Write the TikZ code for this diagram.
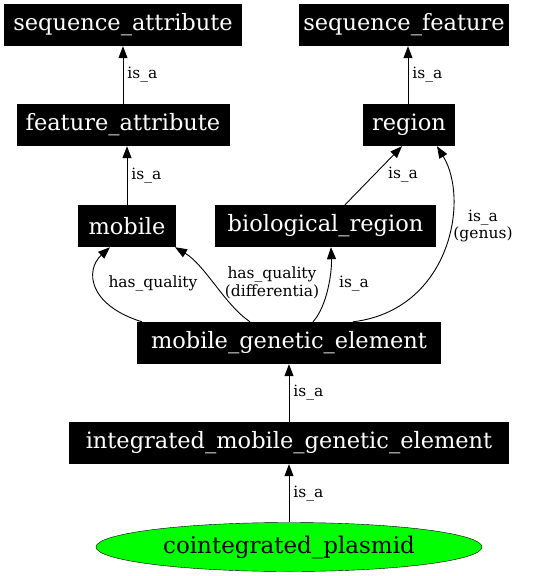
\documentclass[tikz,border=0pt]{standalone}
\usepackage{fontspec}
\setmainfont{DejaVu Serif}
\usetikzlibrary{arrows.meta,shapes.geometric}
\definecolor{plasmidgreen}{RGB}{0,255,0}

\begin{document}
\begin{tikzpicture}[x=1pt,y=-1pt,
  term/.style={fill=black, text=white, font=\fontsize{22.5}{26}\selectfont,
    minimum height=42pt, inner xsep=4pt, inner ysep=0pt},
  lbl/.style={font=\fontsize{15.5}{17.5}\selectfont, inner sep=2pt, align=center},
  side/.style={lbl, right, xshift=2pt},
  rel/.style={-{Triangle[length=12pt,width=9pt]}, line width=0.9pt}]
  % page
  \fill[white] (0,0) rectangle (539,576);
  \useasboundingbox (0,0) rectangle (539,576);
  % terms, placed as in the layout
  \foreach \name/\x/\y/\w/\txt in {
    seqattr/123/25/238/sequence\_attribute,
    seqfeat/404/25/209/sequence\_feature,
    featattr/123/125/213/feature\_attribute,
    region/409/125/92/region,
    mobile/127/226/98/mobile,
    bioreg/325.5/226/221/biological\_region,
    mge/289/343/304/mobile\_genetic\_element,
    imge/289/443/440/integrated\_mobile\_genetic\_element} {
    \node[term, minimum width=\w pt] (\name) at (\x,\y) {\txt};
  }
  \node[ellipse, draw, fill=plasmidgreen, minimum width=386pt, minimum height=49pt,
    inner sep=0pt, font=\fontsize{23}{26}\selectfont] (plasmid) at (289,547) {cointegrated\_plasmid};
  % straight is_a edges
  \draw[rel] (featattr) -- node[side] {is\_a} (seqattr);
  \draw[rel] ([xshift=-1pt]region.north) -- node[side] {is\_a} ([xshift=-1pt]region.north |- seqfeat.south);
  \draw[rel] (mobile.north) -- node[side] {is\_a} (mobile.north |- featattr.south);
  \draw[rel] ([xshift=19.5pt]bioreg.north) -- ([xshift=-7pt]region.south);
  \draw[rel] (imge) -- node[side] {is\_a} (mge);
  \draw[rel] (plasmid) -- node[side] {is\_a} (imge);
  % curved edges out of mobile_genetic_element
  \draw[rel] ([xshift=-147pt]mge.north) .. controls (88,305) and (85,270) .. ([xshift=-17pt]mobile.south);
  \draw[rel] ([xshift=-39pt]mge.north) .. controls (225,305) and (205,265) .. ([xshift=48pt]mobile.south);
  \draw[rel] ([xshift=24pt]mge.north) .. controls (328,305) and (332,270) .. ([xshift=5.5pt]bioreg.south);
  \draw[rel] ([xshift=64pt]mge.north) .. controls (450,310) and (470,200) .. ([xshift=28pt]region.south);
  % labels of the diagonal and curved edges
  \node[lbl] (isabio) at (403,175) {is\_a};
  \node[lbl] (hasq) at (153,283) {has\_quality};
  \node[lbl] (hasqdiff) at (272,283) {has\_quality\\(differentia)};
  \node[lbl] (isamge) at (354,284) {is\_a};
  \node[lbl] (isagenus) at (483,226) {is\_a\\(genus)};
\end{tikzpicture}
\end{document}
